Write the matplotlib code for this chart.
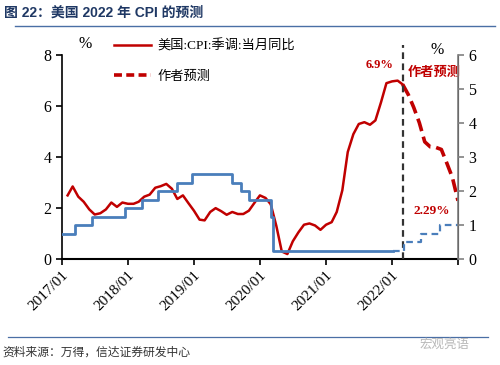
import numpy as np
import pandas as pd
import matplotlib
matplotlib.use('Agg')
import matplotlib.pyplot as plt
import matplotlib.dates as mdates
from matplotlib.lines import Line2D

plt.rcParams['font.family'] = ['Liberation Serif', 'Noto Sans CJK SC']
plt.rcParams['axes.unicode_minus'] = False

# 美国CPI季调同比（月末），2017/01 - 2022/02 实际值
cpi_actual = [2.5, 2.85, 2.45, 2.25, 1.95, 1.75, 1.8, 1.95, 2.22, 2.05, 2.22, 2.17,
              2.17, 2.25, 2.45, 2.53, 2.8, 2.86, 2.95, 2.76, 2.36, 2.5, 2.2, 1.9,
              1.55, 1.52, 1.85, 2.0, 1.88, 1.74, 1.85, 1.77, 1.77, 1.9, 2.2, 2.5,
              2.4, 2.15, 1.3, 0.3, 0.2, 0.7, 1.05, 1.35, 1.4, 1.32, 1.15, 1.35,
              1.45, 1.85, 2.7, 4.2, 4.9, 5.3, 5.37, 5.27, 5.44, 6.15, 6.9, 6.97,
              7.0, 6.85]
# 作者预测 2022/02 - 2022/12
cpi_forecast = [6.85, 6.45, 5.95, 5.35, 4.6, 4.4, 4.38, 4.3, 3.75, 3.2, 2.29]

# 联邦基金目标利率上限（右轴）
fed_dates = ['2017-01-01', '2017-03-16', '2017-06-15', '2017-12-14', '2018-03-22',
             '2018-06-14', '2018-09-27', '2018-12-20', '2019-08-01', '2019-09-19',
             '2019-10-31', '2020-03-04', '2020-03-16', '2022-01-05']
fed_rates = [0.75, 1.0, 1.25, 1.5, 1.75, 2.0, 2.25, 2.5, 2.25, 2.0, 1.75, 1.25, 0.25, 0.25]
fed_fc_dates = ['2022-01-05', '2022-03-10', '2022-06-12', '2022-09-21', '2022-12-31']
fed_fc_rates = [0.25, 0.5, 0.75, 1.0, 1.0]

x_act = pd.period_range('2017-01', periods=len(cpi_actual), freq='M').to_timestamp(how='end')
x_fc = pd.period_range('2022-02', periods=len(cpi_forecast), freq='M').to_timestamp(how='end')

red = '#C00000'
blue = '#4A7EBB'

fig = plt.figure(figsize=(5, 3.65), dpi=100)
ax = fig.add_axes([0.124, 0.290, 0.792, 0.559])
ax2 = ax.twinx()

ax.plot(x_act, cpi_actual, color=red, lw=1.8, zorder=3)
ax.plot(x_fc, cpi_forecast, color=red, lw=2.6, ls=(0, (3.6, 1.6)), zorder=3)
ax2.step(pd.to_datetime(fed_dates), fed_rates, where='post', color=blue, lw=2.0)
ax2.step(pd.to_datetime(fed_fc_dates), fed_fc_rates, where='post', color=blue, lw=1.6,
         ls=(0, (3, 2)))

# 预测分界线
ax.vlines(pd.Timestamp('2022-03-01'), 0, 8.4, colors='#333333', lw=1.6,
          linestyles=(0, (3, 2)), clip_on=False, zorder=4)

ax.set_xlim(pd.Timestamp('2017-01-01'), pd.Timestamp('2023-01-01'))
ax.set_ylim(0, 8)
ax2.set_ylim(0, 6)
ax.set_yticks([0, 2, 4, 6, 8])
ax2.set_yticks([0, 1, 2, 3, 4, 5, 6])
ax.set_xticks(pd.to_datetime(['2017-01-01', '2018-01-01', '2019-01-01', '2020-01-01',
                              '2021-01-01', '2022-01-01', '2023-01-01']))
ax.xaxis.set_major_formatter(mdates.DateFormatter('%Y/%m'))
labels = ['2017/01', '2018/01', '2019/01', '2020/01', '2021/01', '2022/01', '']
ax.set_xticklabels(labels, rotation=45, ha='right', rotation_mode='anchor', fontsize=11)
ax.tick_params(axis='x', length=4, width=1.2, pad=3)
ax.tick_params(axis='y', labelsize=11.5, length=4, width=1.2)
ax2.tick_params(axis='y', labelsize=11.5, length=4, width=1.2, color='#808080')

for a in (ax, ax2):
    a.spines['top'].set_visible(False)
ax.spines['left'].set_linewidth(1.2)
ax.spines['bottom'].set_linewidth(1.5)
ax2.spines['right'].set_color('#808080')
ax2.spines['right'].set_linewidth(1.2)
ax2.spines['left'].set_visible(False)
ax2.spines['bottom'].set_visible(False)

# 单位
fig.text(0.17, 0.88, '%', fontsize=11.5, ha='center', va='center')
fig.text(0.874, 0.862, '%', fontsize=11.5, ha='center', va='center')

# 标注
ax.text(pd.Timestamp('2021-10-25'), 7.6, '6.9%', color=red, fontsize=9,
        fontweight='bold', ha='center', va='center')
ax.text(pd.Timestamp('2022-08-20'), 7.33, '作者预测', color=red, fontsize=9.5,
        fontweight='bold', ha='center', va='center',
        family=['Noto Sans CJK SC'])
ax.text(pd.Timestamp('2022-08-10'), 1.9, '2.29%', color=red, fontsize=9.5,
        fontweight='bold', ha='center', va='center')

handles = [Line2D([], [], color=red, lw=1.8),
           Line2D([], [], color=red, lw=2.6, ls=(0, (2.2, 1.2)))]
fig.legend(handles, ['美国:CPI:季调:当月同比', '作者预测'], loc='upper left',
           bbox_to_anchor=(0.205, 0.925), frameon=False, fontsize=9.5,
           handlelength=2.8, handletextpad=0.5, labelspacing=1.35)

# 标题、分割线、来源
fig.text(0.008, 0.965, '图 22：美国 2022 年 CPI 的预测', color='#1F3864', fontsize=10,
         fontweight='bold', ha='left', va='center',
         family=['Liberation Sans', 'Noto Sans CJK SC'])
fig.add_artist(Line2D([0.03, 0.99], [0.93, 0.93], color='#4A6FA5', lw=1.0))
fig.add_artist(Line2D([0.016, 0.975], [0.077, 0.077], color='#4A6FA5', lw=0.9))
fig.text(0.004, 0.035, '资料来源：万得，信达证券研发中心', color='#333333', fontsize=8.5,
         ha='left', va='center', family=['Noto Sans CJK SC'])
fig.text(0.94, 0.058, '宏观亮语', color='#B8B8B8', fontsize=9, ha='right', va='center',
         family=['Noto Sans CJK SC'])

fig.savefig('out.png', dpi=100)
